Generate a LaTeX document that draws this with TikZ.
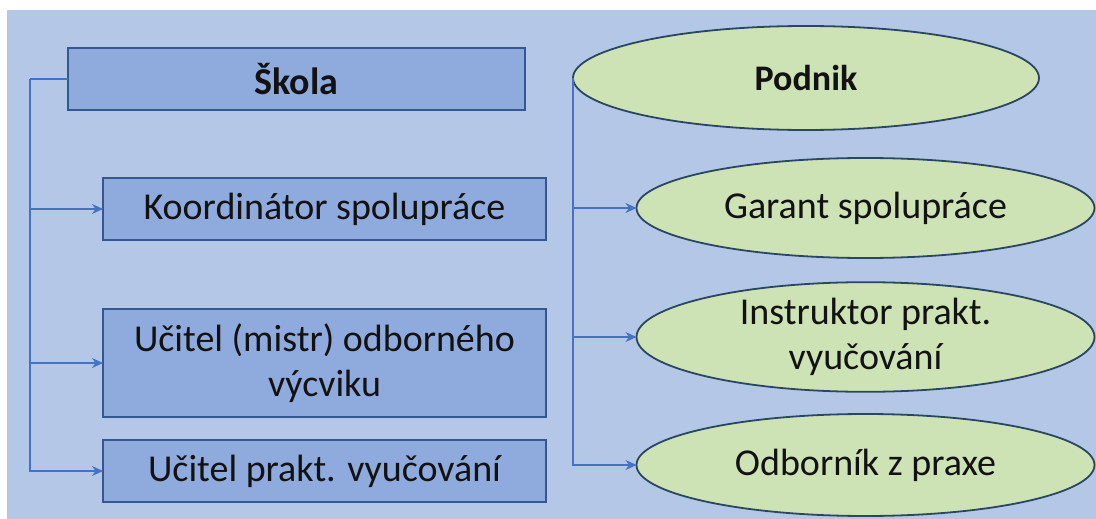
\documentclass[tikz,border=0pt]{standalone}
\usepackage{fontspec}
\setmainfont{Carlito}
\usetikzlibrary{shapes.geometric,arrows.meta}
\definecolor{bgblue}{HTML}{B4C7E7}
\definecolor{boxfill}{HTML}{8FAADC}
\definecolor{boxline}{HTML}{34578F}
\definecolor{ellfill}{HTML}{CDE3B5}
\definecolor{ellline}{HTML}{2A4660}
\definecolor{connblue}{HTML}{4472C4}
\definecolor{txt}{HTML}{121212}
\tikzset{
  bluebox/.style={rectangle, draw=boxline, line width=1.3pt, fill=boxfill, inner sep=0pt, outer sep=0pt, align=center, text=txt, font=\fontsize{38}{45}\selectfont},
  greenell/.style={ellipse, draw=ellline, line width=1.8pt, fill=ellfill, inner sep=0pt, outer sep=0pt, align=center, text=txt, font=\fontsize{38}{45}\selectfont},
  conn/.style={draw=connblue, line width=2pt},
  arr/.style={conn, -{Stealth[length=11pt,width=10pt]}}
}
\begin{document}
\begin{tikzpicture}[x=1pt,y=-1pt]
\useasboundingbox (0,0) rectangle (1096,519);
\fill[white] (0,0) rectangle (1096,519);
\fill[bgblue] (7,10) rectangle (1096,519);
% left column
\node[bluebox, minimum width=457pt, minimum height=62pt, font=\fontsize{38}{45}\selectfont\bfseries] (Skola) at (296.5,79) {Škola};
\node[bluebox, minimum width=443pt, minimum height=62pt] (Koord) at (324.5,209) {Koordinátor spolupráce};
\node[bluebox, minimum width=443pt, minimum height=108pt] (Mistr) at (324.5,363) {Učitel (mistr) odborného\\výcviku};
\node[bluebox, minimum width=443pt, minimum height=62pt] (Prakt) at (324.5,471) {Učitel prakt. vyučování};
% right column
\node[greenell, minimum width=466pt, minimum height=104pt, font=\fontsize{36}{44}\selectfont\bfseries] (Podnik) at (806,78) {Podnik};
\node[greenell, minimum width=458pt, minimum height=100pt] (Garant) at (865.5,208) {Garant spolupráce};
\node[greenell, minimum width=458pt, minimum height=102pt] (Instr) at (865.5,337) {Instruktor prakt.\\vyučování};
\node[greenell, minimum width=458pt, minimum height=102pt] (Odb) at (865.5,465) {Odborník z praxe};
% connectors left
\coordinate (lt) at (30,79);
\draw[conn] (Skola.west) -- (lt);
\draw[arr] (lt) |- (Koord.west);
\draw[arr] (lt) |- (Mistr.west);
\draw[arr] (lt) |- (Prakt.west);
% connectors right
\draw[arr] (Podnik.west) |- (Garant.west);
\draw[arr] (Podnik.west) |- (Instr.west);
\draw[arr] (Podnik.west) |- (Odb.west);
\end{tikzpicture}
\end{document}
